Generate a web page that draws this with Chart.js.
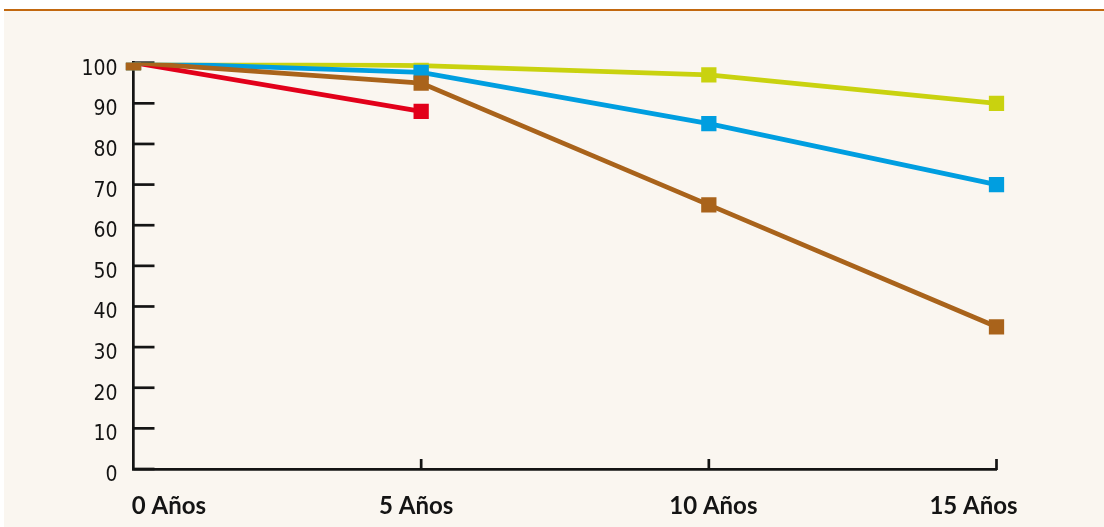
<!DOCTYPE html>
<html>
<head>
<meta charset="utf-8">
<script src="https://cdn.jsdelivr.net/npm/chart.js@4.4.1/dist/chart.umd.min.js"></script>
<style>
  html, body { margin: 0; padding: 0; background: #ffffff; }
  #wrap { position: relative; width: 1104px; height: 527px; overflow: hidden; }
  #panel { position: absolute; left: 4px; top: 11px; right: 0; bottom: 0; background: #faf6f0; }
  #rule { position: absolute; left: 4px; top: 9px; right: 0; height: 2px; background: #c2680f; }
  #box { position: absolute; left: 0; top: 0; width: 1104px; height: 527px; }
</style>
</head>
<body>
<div id="wrap">
  <div id="panel"></div>
  <div id="rule"></div>
  <div id="box"><canvas id="c"></canvas></div>
</div>
<script>
// ---- data ----
const categories = ['0 Años', '5 Años', '10 Años', '15 Años'];
const serieAmarilla = [100, 99.3, 97, 90];
const serieAzul = [100, 97.6, 85, 70];
const serieMarron = [100, 95, 65, 35];
const serieRoja = [100, 88, null, null];
const yTicks = [0, 10, 20, 30, 40, 50, 60, 70, 80, 90, 100];

// ---- style ----
const INK = '#141414';
const xLabelShift = [35.5, -5, 4.5, -23];
const yFontFamily = "'Liberation Sans Narrow', 'DejaVu Sans Condensed', Roboto, sans-serif";

const axisDeco = {
  id: 'axisDeco',
  beforeDatasetsDraw(chart) {
    const { ctx, chartArea, scales: { x, y } } = chart;
    ctx.save();
    ctx.strokeStyle = INK;
    ctx.lineWidth = 2.7;
    ctx.lineCap = 'butt';
    yTicks.forEach(v => {
      const py = y.getPixelForValue(v);
      ctx.beginPath();
      ctx.moveTo(chartArea.left, py);
      ctx.lineTo(chartArea.left + 21, py);
      ctx.stroke();
    });
    categories.forEach((c, i) => {
      if (i === 0) return;
      const px = x.getPixelForValue(i);
      ctx.beginPath();
      ctx.moveTo(px, chartArea.bottom + 1);
      ctx.lineTo(px, chartArea.bottom - 10);
      ctx.stroke();
    });
    ctx.restore();
  },
  afterDraw(chart) {
    const { ctx, scales: { x } } = chart;
    ctx.save();
    ctx.fillStyle = INK;
    ctx.font = "bold 24px Lato, 'Open Sans', sans-serif";
    ctx.textAlign = 'center';
    ctx.textBaseline = 'alphabetic';
    categories.forEach((c, i) => {
      ctx.fillText(c, x.getPixelForValue(i) + xLabelShift[i], 514);
    });
    ctx.restore();
  }
};

function ds(label, data, color, order) {
  return {
    label, data,
    borderColor: color, backgroundColor: color,
    pointBackgroundColor: color, pointBorderColor: color,
    borderWidth: 4.8, pointStyle: 'rect', pointRadius: 10.8, pointBorderWidth: 0,
    pointHoverRadius: 10.8, tension: 0, order, spanGaps: false
  };
}

new Chart(document.getElementById('c'), {
  type: 'line',
  data: {
    labels: categories,
    datasets: [
      ds('Serie marrón', serieMarron, '#a9631b', 0),
      ds('Serie azul', serieAzul, '#009ee0', 1),
      ds('Serie amarilla', serieAmarilla, '#c9d20f', 2),
      ds('Serie roja', serieRoja, '#e2001a', 3)
    ]
  },
  options: {
    responsive: true,
    maintainAspectRatio: false,
    animation: false,
    events: [],
    layout: { padding: { left: 0, right: 107.5, top: 62.7, bottom: 0 } },
    plugins: { legend: { display: false }, tooltip: { enabled: false } },
    scales: {
      x: {
        type: 'category',
        offset: false,
        grid: { display: false, drawTicks: false },
        border: { display: true, color: INK, width: 2.7 },
        ticks: { display: false },
        afterFit(s) { s.height = 58; }
      },
      y: {
        min: 0, max: 100,
        grid: { display: false, drawTicks: false },
        border: { display: true, color: INK, width: 2.7 },
        afterFit(s) { s.width = 133.5; },
        afterBuildTicks(s) { s.ticks = yTicks.map(v => ({ value: v })); },
        ticks: {
          stepSize: 10,
          padding: 16,
          labelOffset: 6.5,
          color: INK,
          font: { family: yFontFamily, size: 21 }
        }
      }
    }
  },
  plugins: [axisDeco]
});
</script>
</body>
</html>
